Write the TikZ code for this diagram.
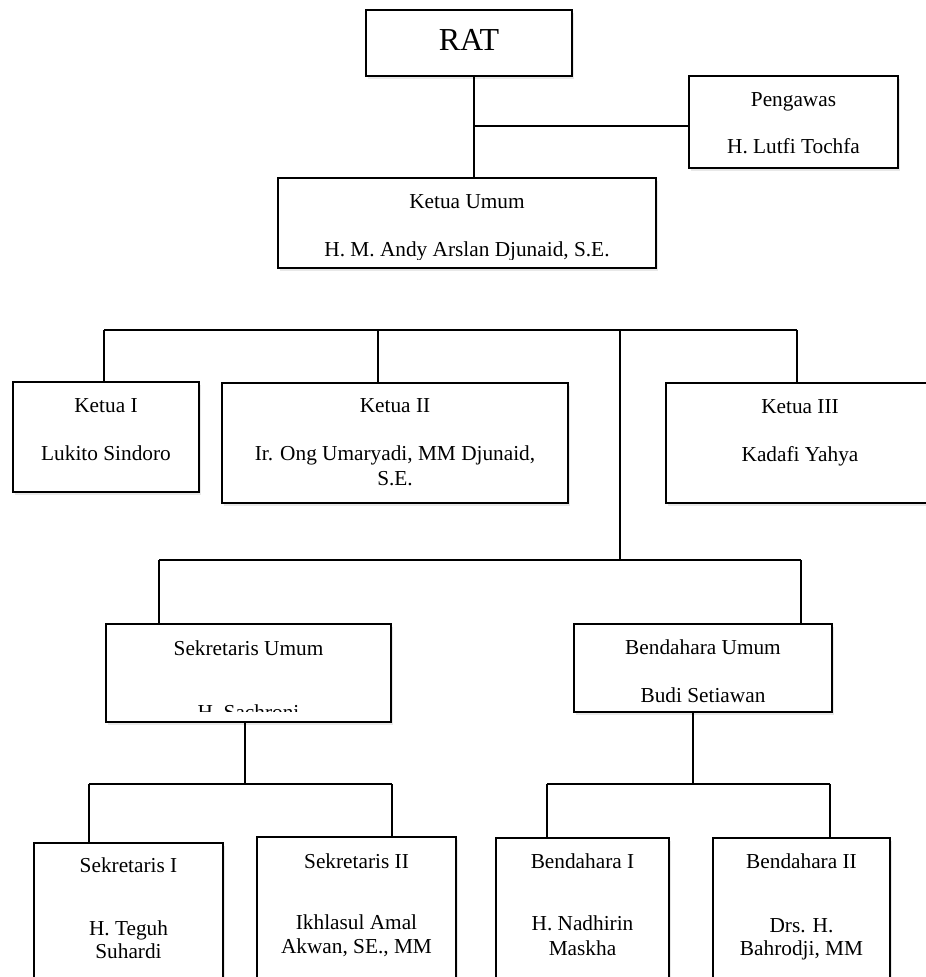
\documentclass[tikz,border=0pt]{standalone}
\usepackage{fontspec}
\setmainfont{Liberation Serif}
\usetikzlibrary{fit,shadows}
\begin{document}
\begin{tikzpicture}[x=1pt,y=-1pt,
  box/.style={draw, line width=1.5pt, fill=white, inner sep=0pt,
    drop shadow={opacity=0.18, shadow xshift=2pt, shadow yshift=-2.5pt}},
  link/.style={line width=1.6pt},
  txt/.style={inner sep=0pt, anchor=base, font=\fontsize{21.3}{25}\selectfont},
  big/.style={inner sep=0pt, anchor=base, font=\fontsize{32}{38}\selectfont}]
\useasboundingbox (0,0) rectangle (926,977);
% boxes
\node[box, fit={(366,10) (572,76)}] (rat) {};
\node[box, fit={(689,76) (898,168)}] (peng) {};
\node[box, fit={(278,178) (656,268)}] (ketum) {};
\node[box, fit={(13,382) (199,492)}] (k1) {};
\node[box, fit={(222,383) (568,503)}] (k2) {};
\node[box, fit={(666,383) (934,503)}] (k3) {};
\node[box, fit={(106,624) (391,722)}] (sekum) {};
\node[box, fit={(574,624) (832,712)}] (benum) {};
\node[box, fit={(34,843) (223,1000)}] (sek1) {};
\node[box, fit={(257,837) (456,1000)}] (sek2) {};
\node[box, fit={(496,838) (669,1000)}] (ben1) {};
\node[box, fit={(713,838) (890,1000)}] (ben2) {};
% texts
\node[big] (tRat) at (469,50) {RAT};
\node[txt] (tPeng1) at (793.5,106) {Pengawas};
\node[txt] (tPeng2) at (793.5,153) {H. Lutfi Tochfa};
\node[txt] (tKetum1) at (467,208) {Ketua Umum};
\begin{scope}
  \clip (280,180) rectangle (654,259);
  \node[txt] (tKetum2) at (467,256) {H. M. Andy Arslan Djunaid,\ S.E.};
\end{scope}
\node[txt] (tK11) at (106,412) {Ketua I};
\node[txt] (tK12) at (106,460) {Lukito Sindoro};
\node[txt] (tK21) at (395,412) {Ketua II};
\node[txt] (tK22) at (395,460) {Ir. Ong Umaryadi, MM Djunaid,};
\node[txt] (tK23) at (395,485) {S.E.};
\node[txt] (tK31) at (800,413) {Ketua III};
\node[txt] (tK32) at (800,461) {Kadafi Yahya};
\node[txt] (tSek1) at (248.5,655) {Sekretaris Umum};
\begin{scope}
  \clip (108,626) rectangle (389,711);
  \node[txt] (tSek2) at (248.5,719) {H. Sachroni};
\end{scope}
\node[txt] (tBen1) at (703,654) {Bendahara Umum};
\node[txt] (tBen2) at (703,702) {Budi Setiawan};
\node[txt] (tS11) at (128.5,872) {Sekretaris I};
\node[txt] (tS12) at (128.5,935) {H. Teguh};
\node[txt] (tS13) at (128.5,958) {Suhardi};
\node[txt] (tS21) at (356.5,868) {Sekretaris II};
\node[txt] (tS22) at (356.5,929) {Ikhlasul Amal};
\node[txt] (tS23) at (356.5,953) {Akwan, SE., MM};
\node[txt] (tB11) at (582.5,868) {Bendahara I};
\node[txt] (tB12) at (582.5,930) {H. Nadhirin};
\node[txt] (tB13) at (582.5,955) {Maskha};
\node[txt] (tB21) at (801.5,868) {Bendahara II};
\node[txt] (tB22) at (801.5,932) {Drs. H.};
\node[txt] (tB23) at (801.5,955) {Bahrodji, MM};
% junction coordinates
\coordinate (j0) at (474,126);
\coordinate (b1) at (104,330);
\coordinate (b2) at (378,330);
\coordinate (b3) at (620,330);
\coordinate (b4) at (797,330);
\coordinate (c0) at (620,560);
\coordinate (c1) at (159,560);
\coordinate (c2) at (801,560);
\coordinate (s0) at (245,784);
\coordinate (s1) at (89,784);
\coordinate (s2) at (392,784);
\coordinate (d0) at (693,784);
\coordinate (d1) at (547,784);
\coordinate (d2) at (830,784);
% connectors
\draw[link] (rat.south -| j0) -- (ketum.north -| j0);
\draw[link] (j0) -- (j0 -| peng.west);
\draw[link] (b1) -- (b4);
\draw[link] (b1) -- (k1.north -| b1);
\draw[link] (b2) -- (k2.north -| b2);
\draw[link] (b3) -- (c0);
\draw[link] (b4) -- (k3.north -| b4);
\draw[link] (c1) -- (c2);
\draw[link] (c1) -- (sekum.north -| c1);
\draw[link] (c2) -- (benum.north -| c2);
\draw[link] (sekum.south -| s0) -- (s0);
\draw[link] (s1) -- (s2);
\draw[link] (s1) -- (sek1.north -| s1);
\draw[link] (s2) -- (sek2.north -| s2);
\draw[link] (benum.south -| d0) -- (d0);
\draw[link] (d1) -- (d2);
\draw[link] (d1) -- (ben1.north -| d1);
\draw[link] (d2) -- (ben2.north -| d2);
\end{tikzpicture}
\end{document}
